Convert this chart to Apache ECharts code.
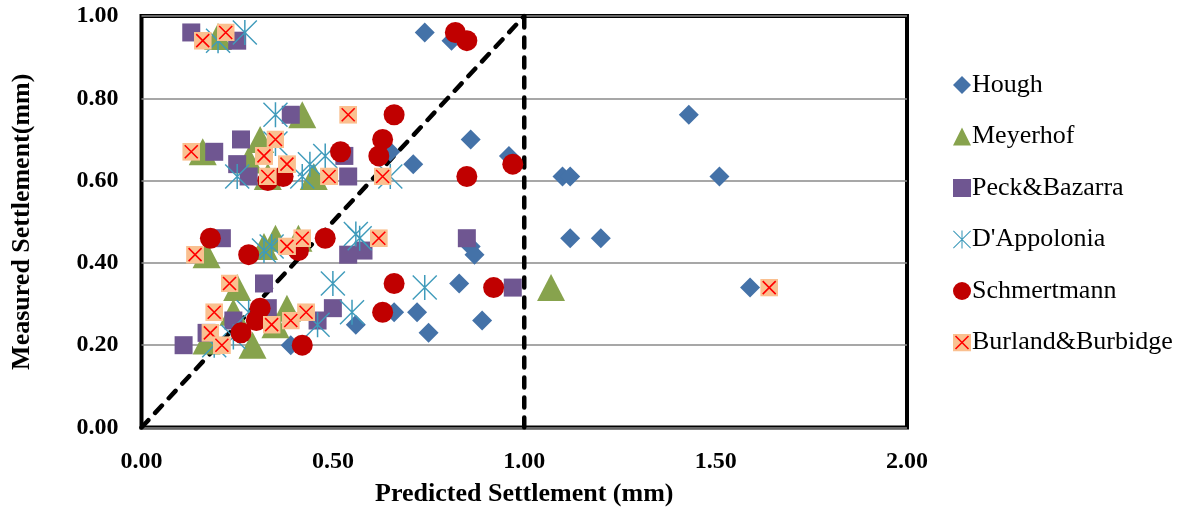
<!DOCTYPE html>
<html>
<head>
<meta charset="utf-8">
<script src="https://cdn.jsdelivr.net/npm/echarts@6/dist/echarts.min.js"></script>
<style>html,body{margin:0;padding:0;background:#fff;}#c{width:1189px;height:516px;}</style>
</head>
<body>
<div id="c"></div>
<script>
// ---- data (predicted, measured) in mm ----
const seriesNames = ['Hough','Meyerhof','Peck&Bazarra',"D'Appolonia",'Schmertmann','Burland&Burbidge'];
const hough = [[0.74,0.96],[0.81,0.94],[1.43,0.76],[0.86,0.70],[0.96,0.66],[0.65,0.67],[0.71,0.64],[1.10,0.61],[1.12,0.61],[1.51,0.61],[1.12,0.46],[1.20,0.46],[0.86,0.44],[0.87,0.42],[0.83,0.35],[1.59,0.34],[0.66,0.28],[0.72,0.28],[0.89,0.26],[0.56,0.25],[0.75,0.23],[0.39,0.20]];
const meyerhof = [[0.20,0.95],[0.42,0.76],[0.31,0.70],[0.16,0.67],[0.28,0.65],[0.45,0.61],[0.33,0.61],[0.35,0.46],[0.41,0.46],[0.32,0.44],[0.17,0.42],[0.25,0.34],[1.07,0.34],[0.38,0.29],[0.24,0.28],[0.35,0.25],[0.17,0.21],[0.29,0.20]];
const peck = [[0.13,0.96],[0.25,0.94],[0.39,0.76],[0.26,0.70],[0.19,0.67],[0.53,0.66],[0.25,0.64],[0.28,0.61],[0.54,0.61],[0.21,0.46],[0.85,0.46],[0.58,0.43],[0.54,0.42],[0.32,0.35],[0.97,0.34],[0.33,0.29],[0.50,0.29],[0.24,0.26],[0.46,0.26],[0.17,0.23],[0.11,0.20]];
const dappolonia = [[0.27,0.96],[0.20,0.94],[0.35,0.76],[0.35,0.69],[0.48,0.66],[0.44,0.64],[0.25,0.61],[0.42,0.61],[0.65,0.61],[0.56,0.47],[0.57,0.46],[0.32,0.43],[0.34,0.44],[0.50,0.35],[0.74,0.34],[0.28,0.28],[0.55,0.28],[0.46,0.25],[0.24,0.22],[0.19,0.20]];
const schmertmann = [[0.82,0.96],[0.85,0.94],[0.66,0.76],[0.63,0.70],[0.62,0.66],[0.52,0.67],[0.97,0.64],[0.85,0.61],[0.37,0.61],[0.33,0.60],[0.18,0.46],[0.48,0.46],[0.41,0.43],[0.28,0.42],[0.66,0.35],[0.92,0.34],[0.31,0.29],[0.63,0.28],[0.30,0.26],[0.26,0.23],[0.42,0.20]];
const burland = [[0.22,0.96],[0.16,0.94],[0.54,0.76],[0.35,0.70],[0.13,0.67],[0.32,0.66],[0.38,0.64],[0.33,0.61],[0.49,0.61],[0.63,0.61],[0.62,0.46],[0.42,0.46],[0.38,0.44],[0.14,0.42],[0.23,0.35],[1.64,0.34],[0.43,0.28],[0.19,0.28],[0.39,0.26],[0.34,0.25],[0.18,0.23],[0.21,0.20]];
const diagonalLine = [[0,0],[1,1]];
const verticalLine = [[1,0],[1,1]];
const xTicks = {min:0, max:2, interval:0.5};
const yTicks = {min:0, max:1, interval:0.2};

const serif = "'Liberation Serif','Times New Roman',serif";
const starPath = 'path://M47,0L53,0L53,100L47,100Z M4,0L100,96L96,100L0,4Z M96,0L100,4L4,100L0,96Z';
const xSvg = "<svg xmlns='http://www.w3.org/2000/svg' width='36' height='36' viewBox='0 0 36 36'><rect width='36' height='36' fill='#fac090'/><path d='M5 5L31 31M31 5L5 31' stroke='#ff0000' stroke-width='3.2'/></svg>";
const xSymbol = 'image://data:image/svg+xml;charset=utf-8,' + encodeURIComponent(xSvg);

const chart = echarts.init(document.getElementById('c'), null, {renderer:'canvas'});
const scatterBase = {type:'scatter', z:3};
chart.setOption({
  animation:false,
  backgroundColor:'#fff',
  grid:{left:141.5, top:16, width:765.5, height:411.5, show:true, borderColor:'#000', borderWidth:4, backgroundColor:'transparent'},
  legend:{
    orient:'vertical', left:948, top:67, itemWidth:18, itemHeight:18, itemGap:25.5,
    data:seriesNames,
    textStyle:{fontFamily:serif, fontSize:26, color:'#000', padding:[0,0,0,-4]}
  },
  xAxis:{
    type:'value', min:xTicks.min, max:xTicks.max, interval:xTicks.interval,
    name:'Predicted Settlement (mm)', nameLocation:'middle', nameGap:54,
    nameTextStyle:{fontFamily:serif, fontSize:26, fontWeight:'bold', color:'#000'},
    axisLine:{show:false}, axisTick:{show:false}, splitLine:{show:false},
    axisLabel:{margin:22, fontFamily:serif, fontSize:24, fontWeight:'bold', color:'#000', formatter:v=>v.toFixed(2)}
  },
  yAxis:{
    type:'value', min:yTicks.min, max:yTicks.max, interval:yTicks.interval,
    name:'Measured Settlement(mm)', nameLocation:'middle', nameGap:106,
    nameTextStyle:{fontFamily:serif, fontSize:26, fontWeight:'bold', color:'#000'},
    axisLine:{show:false}, axisTick:{show:false},
    splitLine:{show:true, lineStyle:{color:'#8a8a8a', width:1.5}},
    axisLabel:{margin:23, fontFamily:serif, fontSize:24, fontWeight:'bold', color:'#000', formatter:v=>v.toFixed(2)}
  },
  series:[
    {type:'line', data:diagonalLine, symbol:'none', z:2, silent:true, lineStyle:{color:'#000', width:4.5, type:[10,10], cap:'round'}},
    {type:'line', data:verticalLine, symbol:'none', z:2, silent:true, lineStyle:{color:'#000', width:4.5, type:[10,10], cap:'round'}},
    Object.assign({}, scatterBase, {name:seriesNames[0], data:hough, symbol:'diamond', symbolSize:20, itemStyle:{color:'#4472a8', opacity:1}}),
    Object.assign({}, scatterBase, {name:seriesNames[1], data:meyerhof, symbol:'triangle', symbolSize:[28,27], itemStyle:{color:'#87a34d', opacity:1}}),
    Object.assign({}, scatterBase, {name:seriesNames[2], data:peck, symbol:'rect', symbolSize:18, itemStyle:{color:'#6f5691', opacity:1}}),
    Object.assign({}, scatterBase, {name:seriesNames[3], data:dappolonia, symbol:starPath, symbolSize:25, itemStyle:{color:'#3f9bbb', opacity:1}}),
    Object.assign({}, scatterBase, {name:seriesNames[4], data:schmertmann, symbol:'circle', symbolSize:21, itemStyle:{color:'#c00000', opacity:1}}),
    Object.assign({}, scatterBase, {name:seriesNames[5], data:burland, symbol:xSymbol, symbolSize:18, itemStyle:{opacity:1}})
  ]
});
</script>
</body>
</html>
